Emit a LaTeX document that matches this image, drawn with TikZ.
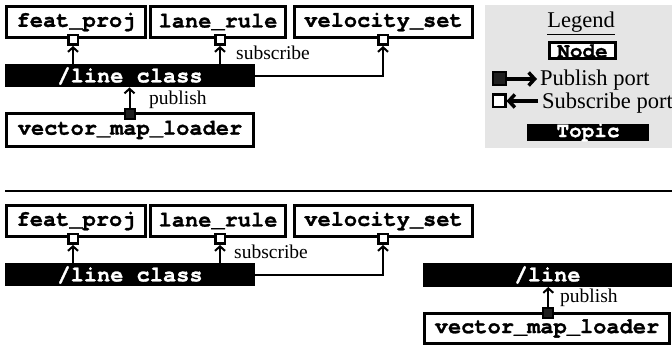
\documentclass[tikz,border=0pt]{standalone}
\usepackage{fontspec}
\setmainfont{Liberation Serif}
\setmonofont{TeX Gyre Cursor}[BoldFeatures={FakeBold=1.2}]
\usetikzlibrary{arrows.meta}

\begin{document}
\begin{tikzpicture}[x=1pt,y=-1pt,
  mono/.style={font=\fontsize{22}{24}\selectfont\ttfamily\bfseries},
  nodebox/.style={draw, line width=3pt, fill=white, inner sep=0pt, outer sep=0pt, mono},
  topic/.style={fill=black, text=white, inner sep=0pt, outer sep=0pt, mono},
  subport/.style={draw, fill=white, line width=2.5pt, minimum size=9.5pt, inner sep=0pt, outer sep=1.25pt},
  pubport/.style={draw, fill=black!88, line width=2pt, minimum size=10pt, inner sep=0pt, outer sep=1pt},
  conn/.style={line width=2pt, -{Straight Barb[length=4.5pt,width=10pt]}},
  lbl/.style={font=\fontsize{19.5}{20}\selectfont, inner sep=0pt, anchor=base west},
  legtext/.style={font=\fontsize{22.5}{24}\selectfont, inner sep=0pt, anchor=base west},
  legmono/.style={font=\fontsize{21}{22}\selectfont\ttfamily\bfseries},
  legarrow/.style={line width=3.5pt, -{Straight Barb[length=6pt,width=13pt]}}]

\useasboundingbox (0,0) rectangle (672,347);

% ---------- upper panel: single topic ----------
\node[nodebox, minimum width=139pt, minimum height=31pt] (fp1) at (76,22) {feat\_proj};
\node[nodebox, minimum width=135pt, minimum height=31pt] (lr1) at (218,22) {lane\_rule};
\node[nodebox, minimum width=178pt, minimum height=31pt] (vs1) at (383.5,22) {velocity\_set};
\node[subport] (sa1) at (73,40) {};
\node[subport] (sb1) at (220,40) {};
\node[subport] (sc1) at (383,40) {};

\node[topic, minimum width=250pt, minimum height=23pt] (lc1) at (130,76) {/line class};

\node[nodebox, minimum width=247pt, minimum height=33pt] (vm1) at (130,130) {vector\_map\_loader};
\node[pubport] (pp1) at (129.5,114) {};

\draw[conn] (sa1 |- lc1.north) -- (sa1.south);
\draw[conn] (sb1 |- lc1.north) -- (sb1.south);
\draw[conn] (lc1.east) -| (sc1.south);
\draw[conn] (pp1.north) -- (pp1 |- lc1.south);

\node[lbl] (sub1) at (236,60) {subscribe};
\node[lbl] (pub1) at (149,105) {publish};

% ---------- legend ----------
\node[fill=black!10, minimum width=187pt, minimum height=143pt, inner sep=0pt, outer sep=0pt] (legbg) at (578.5,76.5) {};
\node[font=\fontsize{22.5}{24}\selectfont, inner sep=0pt, anchor=base] (legtitle) at (581,28) {\underline{Legend}};
\node[nodebox, legmono, minimum width=66pt, minimum height=16pt] (legnode) at (582.5,51) {Node};
\node[pubport, line width=2pt, minimum size=13pt] (legpub) at (499,79) {};
\coordinate (legpubend) at (537,79);
\draw[legarrow] (legpub.east) -- (legpubend);
\node[legtext] (legpubtxt) at (540,86) {Publish port};
\node[subport, line width=2.5pt, minimum size=12.5pt, outer sep=1.25pt] (legsub) at (499,101) {};
\coordinate (legsubstart) at (538,101);
\draw[legarrow] (legsubstart) -- (legsub.east);
\node[legtext] (legsubtxt) at (542,108.5) {Subscribe port};
\node[topic, legmono, minimum width=122pt, minimum height=17pt] (legtopic) at (588,132.5) {Topic};

% ---------- separator ----------
\coordinate (sepl) at (5,191.5);
\coordinate (sepr) at (672,191.5);
\draw[line width=2pt] (sepl) -- (sepr);

% ---------- lower panel: split topics ----------
\node[nodebox, minimum width=139pt, minimum height=31pt] (fp2) at (76,221) {feat\_proj};
\node[nodebox, minimum width=135pt, minimum height=31pt] (lr2) at (218,221) {lane\_rule};
\node[nodebox, minimum width=178pt, minimum height=31pt] (vs2) at (383.5,221) {velocity\_set};
\node[subport] (sa2) at (73,239) {};
\node[subport] (sb2) at (220,239) {};
\node[subport] (sc2) at (383,239) {};

\node[topic, minimum width=250pt, minimum height=23pt] (lc2) at (130,275) {/line class};

\draw[conn] (sa2 |- lc2.north) -- (sa2.south);
\draw[conn] (sb2 |- lc2.north) -- (sb2.south);
\draw[conn] (lc2.east) -| (sc2.south);
\node[lbl] (sub2) at (234,259) {subscribe};

\node[topic, minimum width=249pt, minimum height=24pt] (ln2) at (547.5,275) {/line};
\node[nodebox, minimum width=245pt, minimum height=30.5pt] (vm2) at (547,328.5) {vector\_map\_loader};
\node[pubport] (pp2) at (548.3,313) {};
\draw[conn] (pp2.north) -- (pp2 |- ln2.south);
\node[lbl] (pub2) at (560,303) {publish};

\end{tikzpicture}
\end{document}
